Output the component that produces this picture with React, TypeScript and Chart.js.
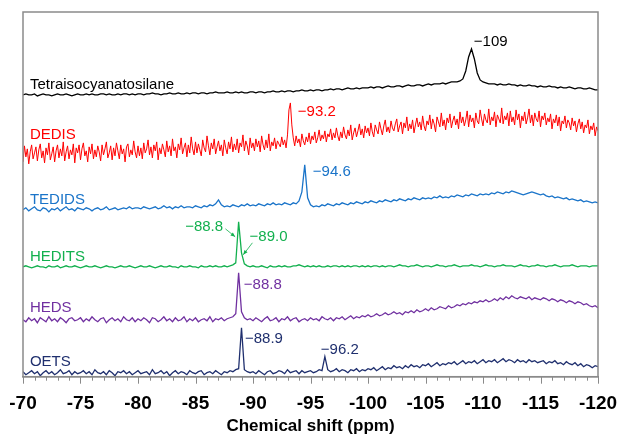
import React, { useEffect, useRef } from "react";
import { Chart, registerables } from "chart.js";

Chart.register(...registerables);

// Spectrum sampling grid (ppm): first point, and spacing of each trace
const SHIFT_START = -70;
const COARSE_STEP = 0.25;
const FINE_STEP = 0.125;

// x-axis range and tick steps
const X_MIN = -120;
const X_MAX = -70;
const MAJOR_STEP = 5;
const MINOR_STEP = 1;

// Intensities (arbitrary units), one value per grid point, left (-70) to right (-120)
const tetraisocyanatosilane = [
  0, 1, 0, 0, 1, -1, 0, 1, 0, 0, -1, 0, 1, 0, 0, 1, 0, -1, 0, 1,
  0, 0, 1, 0, 1, 0, 0, 1, 1, 0, 1, 0, 0, 1, 0, 1, 1, 0, 1, 0,
  1, 1, 0, 1, 1, 2, 1, 1, 0, 1, 1, 2, 1, 1, 2, 1, 1, 2, 1, 2,
  2, 1, 2, 2, 1, 2, 2, 3, 2, 2, 2, 3, 2, 2, 3, 2, 3, 2, 2, 3,
  3, 2, 3, 3, 2, 3, 3, 4, 3, 3, 4, 3, 4, 4, 3, 4, 4, 5, 4, 4,
  5, 4, 5, 5, 4, 5, 5, 6, 5, 6, 6, 5, 6, 7, 6, 6, 7, 6, 7, 7,
  7, 8, 7, 8, 8, 7, 8, 9, 8, 8, 9, 9, 8, 9, 10, 9, 9, 10, 10, 9,
  10, 11, 10, 11, 11, 11, 12, 11, 12, 13, 13, 13, 14, 16, 24, 38, 46, 36, 22, 15,
  13, 12, 11, 11, 11, 10, 11, 10, 10, 11, 10, 10, 9, 10, 9, 9, 10, 9, 9, 8,
  9, 8, 8, 9, 8, 8, 7, 8, 7, 7, 8, 7, 6, 7, 7, 6, 6, 7, 6, 5, 5,
];

// DEDIS is sampled on the fine grid (401 points)
const dedis = [
  -12, 4, -7, 1, -14, -2, 5, -9, -3, 3, -11, 0, 6, -8, -1, -13, 2, -5, 7, -10,
  -4, 3, -12, -1, 5, -8, 1, -6, 8, -11, -2, 4, -9, 0, -5, 6, -13, 2, -3, 5,
  -10, 1, 7, -6, -1, -12, 3, -4, 6, -9, 0, -7, 4, -2, -11, 5, -5, 1, 8, -8,
  -3, 4, -10, 2, -6, 7, -1, -9, 5, -4, 1, -12, 3, 6, -7, 0, -5, 9, -2, -8,
  4, -6, 2, -9, 7, -3, 1, 10, -5, 3, -8, 5, -1, 8, -10, 2, -4, 6, 0, -7,
  9, -2, 4, -6, 11, -1, 3, -8, 6, 0, 12, -4, 2, 7, -7, 5, -3, 13, 1, -5,
  8, -3, 6, 0, -6, 10, 2, -2, 14, 4, -5, 7, 1, 11, -4, 3, 9, -1, 5, -6,
  10, 2, -4, 8, 1, 13, -2, 6, 0, 11, -3, 7, 3, 15, -1, 9, 4, -5, 12, 2,
  7, -1, 11, 3, 9, -2, 14, 5, 0, 10, 2, 16, -1, 8, 4, 12, 1, 9, 6, 3,
  13, 5, 10, 2, 15, 40, 47, 25, 12, 4, 14, 7, 11, 3, 16, 9, 5, 13, 8, 17,
  6, 14, 10, 18, 7, 12, 20, 9, 15, 11, 19, 8, 16, 13, 21, 10, 17, 12, 22, 14,
  9, 18, 12, 23, 15, 11, 20, 14, 25, 10, 17, 22, 13, 19, 26, 15, 21, 12, 24, 17,
  22, 14, 27, 18, 13, 25, 20, 16, 28, 21, 15, 24, 30, 18, 23, 17, 29, 22, 19, 26,
  31, 18, 24, 28, 16, 27, 22, 33, 19, 26, 21, 30, 17, 25, 32, 23, 28, 20, 34, 24,
  19, 29, 25, 35, 21, 31, 26, 18, 33, 28, 23, 37, 24, 30, 20, 32, 27, 36, 22, 29,
  34, 25, 31, 21, 38, 27, 33, 24, 30, 39, 23, 35, 28, 32, 22, 37, 29, 26, 40, 31,
  24, 36, 30, 27, 41, 25, 33, 29, 38, 23, 35, 31, 27, 42, 26, 34, 30, 37, 24, 39,
  28, 33, 25, 40, 30, 36, 22, 34, 29, 38, 26, 32, 41, 27, 35, 24, 37, 31, 28, 39,
  23, 34, 30, 37, 25, 32, 28, 36, 21, 31, 27, 35, 24, 33, 19, 29, 26, 34, 22, 30,
  27, 20, 32, 24, 29, 18, 26, 31, 21, 28, 17, 25, 22, 30, 16, 24, 20, 27, 14, 23,
  19,
];

const tedids = [
  0, 2, -1, 1, 3, 0, -1, 2, 1, -2, 1, 0, 2, -1, 1, 3, 0, 1, -1, 2,
  1, 0, 2, 1, -1, 1, 2, 0, 1, 3, 0, 1, 2, 0, 1, 2, 1, 3, 1, 2,
  2, 1, 3, 2, 1, 2, 3, 1, 2, 4, 2, 3, 1, 3, 2, 4, 2, 3, 3, 2,
  4, 3, 2, 4, 3, 5, 4, 6, 10, 5, 3, 4, 3, 5, 4, 3, 5, 4, 6, 4,
  5, 4, 6, 5, 4, 6, 5, 7, 5, 6, 5, 7, 6, 5, 7, 6, 9, 18, 45, 12,
  5, 3, 4, 3, 5, 4, 6, 5, 4, 6, 5, 7, 6, 5, 7, 6, 8, 7, 6, 8,
  7, 9, 8, 7, 9, 8, 10, 9, 8, 10, 9, 11, 10, 9, 11, 10, 12, 11, 10, 12,
  11, 12, 11, 13, 12, 14, 12, 13, 12, 14, 13, 15, 14, 13, 15, 14, 16, 15, 14, 16,
  15, 16, 15, 17, 16, 18, 17, 16, 18, 17, 19, 18, 17, 16, 15, 16, 17, 18, 17, 16,
  15, 16, 14, 13, 14, 12, 13, 12, 11, 12, 10, 11, 10, 9, 10, 8, 9, 8, 7, 8, 7,
];

const hedits = [
  0, 1, 0, -1, 0, 1, 0, 0, -1, 1, 0, 0, 1, -1, 0, 1, 0, 0, 1, 0,
  -1, 0, 1, 0, 0, 1, 0, -1, 0, 1, 0, 0, -1, 0, 1, 0, 0, 1, 0, -1,
  0, 1, 0, 0, 1, 0, -1, 0, 1, 0, 0, 1, 0, 0, -1, 1, 0, 0, 1, 0,
  0, -1, 1, 0, 0, 1, 0, 1, 0, 0, 1, 0, 1, 2, 4, 45, 14, 3, 1, 0,
  1, 0, 0, 1, 0, -1, 1, 0, 0, 1, 0, 1, 0, 0, 1, 1, 2, 1, 0, 1,
  0, 1, 0, 1, 0, 0, 1, 0, 1, 1, 0, 1, 0, 1, 0, 1, 1, 0, 1, 0,
  1, 0, 1, 1, 0, 1, 0, 1, 1, 0, 1, 2, 1, 1, 0, 1, 1, 2, 1, 0,
  1, 1, 0, 1, 2, 1, 1, 0, 1, 1, 2, 1, 0, 1, 1, 1, 2, 1, 1, 0,
  1, 2, 1, 1, 0, 1, 1, 2, 1, 1, 1, 0, 1, 2, 1, 1, 0, 1, 1, 2,
  1, 1, 0, 1, 1, 2, 1, 0, 1, 1, 1, 2, 1, 0, 1, 1, 1, 0, 1, 1, 1,
];

const heds = [
  0, -2, 2, -1, 1, -3, 2, 0, -2, 3, -1, 1, -2, 2, 0, -3, 1, 2, -1, 0,
  2, -2, 1, -1, 3, 0, -2, 1, 2, -3, 0, 2, -1, 1, -2, 3, 0, -1, 2, -2,
  1, -1, 2, 0, -3, 2, 1, -2, 0, 3, -1, 1, -2, 2, -1, 0, 3, -2, 1, -1,
  2, -2, 0, 1, -1, 3, -2, 1, 0, 2, -1, 1, 2, 3, 6, 47, 8, 2, 0, 1,
  -1, 2, 0, -2, 1, 3, -1, 0, 2, -2, 1, 0, 3, -1, 1, 2, -2, 0, 1, -1,
  2, 0, 1, -1, 3, 1, 0, 2, -1, 2, 1, 3, 0, 2, 4, 1, 3, 2, 4, 3,
  5, 3, 4, 6, 4, 5, 7, 5, 6, 8, 6, 7, 5, 8, 7, 9, 7, 10, 8, 9,
  11, 9, 12, 10, 11, 13, 12, 11, 14, 12, 13, 15, 14, 16, 15, 17, 16, 18, 17, 19,
  18, 20, 18, 19, 21, 19, 22, 20, 23, 21, 24, 22, 21, 23, 22, 21, 23, 20, 22, 21,
  20, 22, 21, 19, 21, 20, 18, 20, 19, 17, 19, 18, 16, 18, 17, 15, 16, 14, 13, 14, 12,
];

const oets = [
  1, -2, 0, 2, -1, 1, -3, 0, 2, -1, 1, -2, 0, 3, -1, 0, 2, -2, 1, -1,
  0, 2, -1, 1, -2, 3, 0, -1, 1, -2, 2, 0, -3, 1, 0, 2, -1, 1, -2, 0,
  2, -1, 0, 1, -2, 3, -1, 0, 2, -1, 1, -3, 0, 2, -1, 1, 0, -2, 2, 0,
  -1, 1, 2, -2, 0, 1, -1, 2, 0, -2, 1, 0, 2, 1, 3, 4, 45, 3, 1, 0,
  1, -1, 2, 0, -2, 1, 2, -1, 0, 2, 1, -1, 3, 0, 1, 2, -1, 2, 0, 1,
  2, 0, 1, 3, 2, 16, 3, 1, 2, 4, 1, 3, 2, 0, 3, 2, 4, 1, 3, 2,
  4, 3, 5, 2, 4, 6, 3, 5, 4, 7, 5, 6, 4, 7, 5, 8, 6, 7, 5, 8,
  7, 9, 6, 8, 10, 7, 9, 8, 10, 9, 11, 8, 10, 12, 9, 11, 10, 12, 9, 11,
  13, 10, 12, 11, 13, 10, 12, 14, 11, 13, 12, 10, 13, 11, 12, 10, 13, 11, 12, 10,
  11, 12, 9, 11, 10, 12, 9, 10, 8, 11, 9, 8, 10, 7, 9, 6, 8, 7, 5, 7, 6,
];

// Traces: name, values, sampling step, vertical stacking offset, colour, line width
const traces = [
  { name: "Tetraisocyanatosilane", values: tetraisocyanatosilane, step: COARSE_STEP, offset: 282, color: "#000000", width: 1.3 },
  { name: "DEDIS", values: dedis, step: FINE_STEP, offset: 227, color: "#ff0000", width: 1 },
  { name: "TEDIDS", values: tedids, step: COARSE_STEP, offset: 167, color: "#1a74c9", width: 1.3 },
  { name: "HEDITS", values: hedits, step: COARSE_STEP, offset: 110, color: "#12b04e", width: 1.3 },
  { name: "HEDS", values: heds, step: COARSE_STEP, offset: 57, color: "#7030a0", width: 1.3 },
  { name: "OETS", values: oets, step: COARSE_STEP, offset: 4, color: "#1f2f6e", width: 1.3 },
];

// Text labels placed in data coordinates (ppm, level)
const textLabels = [
  { text: "Tetraisocyanatosilane", ppm: -70.6, level: 292, color: "#000000" },
  { text: "\u2212109", ppm: -109.2, level: 335, color: "#000000" },
  { text: "DEDIS", ppm: -70.6, level: 242, color: "#ff0000" },
  { text: "\u221293.2", ppm: -93.9, level: 265, color: "#ff0000" },
  { text: "TEDIDS", ppm: -70.6, level: 177, color: "#1a74c9" },
  { text: "\u221294.6", ppm: -95.2, level: 205, color: "#1a74c9" },
  { text: "HEDITS", ppm: -70.6, level: 120, color: "#12b04e" },
  { text: "\u221288.8", ppm: -84.1, level: 150, color: "#12b04e" },
  { text: "\u221289.0", ppm: -89.7, level: 140, color: "#12b04e" },
  { text: "HEDS", ppm: -70.6, level: 69, color: "#7030a0" },
  { text: "\u221288.8", ppm: -89.2, level: 92, color: "#7030a0" },
  { text: "OETS", ppm: -70.6, level: 15, color: "#1f2f6e" },
  { text: "\u221288.9", ppm: -89.3, level: 38, color: "#1f2f6e" },
  { text: "\u221296.2", ppm: -95.9, level: 27, color: "#1f2f6e" },
];

const arrows = [
  { fromPpm: -87.6, fromLevel: 148, toPpm: -88.45, toLevel: 140, color: "#12b04e" },
  { fromPpm: -89.95, fromLevel: 134, toPpm: -89.15, toLevel: 122, color: "#12b04e" },
];

const FONT = 'Arial, "Liberation Sans", Helvetica, sans-serif';
const FRAME_COLOR = "#8a8a8a";
const MAJOR_TICK_LEN = 7;
const MINOR_TICK_LEN = 4;

const framePlugin = {
  id: "frameAndTicks",
  afterDraw(chart: any) {
    const { ctx, chartArea, scales } = chart;
    const x = scales.x;
    ctx.save();
    ctx.strokeStyle = FRAME_COLOR;
    ctx.lineWidth = 1.5;
    ctx.strokeRect(chartArea.left, chartArea.top, chartArea.right - chartArea.left, chartArea.bottom - chartArea.top);
    ctx.lineWidth = 1;
    ctx.beginPath();
    for (let v = X_MAX; v >= X_MIN; v -= MINOR_STEP) {
      const len = v % MAJOR_STEP === 0 ? MAJOR_TICK_LEN : MINOR_TICK_LEN;
      const px = Math.round(x.getPixelForValue(v)) + 0.5;
      ctx.moveTo(px, chartArea.bottom);
      ctx.lineTo(px, chartArea.bottom + len);
    }
    ctx.stroke();
    ctx.restore();
  },
};

const labelPlugin = {
  id: "spectrumLabels",
  afterDatasetsDraw(chart: any) {
    const { ctx, scales } = chart;
    const x = scales.x;
    const y = scales.y;
    ctx.save();
    ctx.font = `15px ${FONT}`;
    ctx.textAlign = "left";
    ctx.textBaseline = "middle";
    for (const l of textLabels) {
      ctx.fillStyle = l.color;
      ctx.fillText(l.text, x.getPixelForValue(l.ppm), y.getPixelForValue(l.level));
    }
    for (const a of arrows) {
      const x0 = x.getPixelForValue(a.fromPpm);
      const y0 = y.getPixelForValue(a.fromLevel);
      const x1 = x.getPixelForValue(a.toPpm);
      const y1 = y.getPixelForValue(a.toLevel);
      ctx.strokeStyle = a.color;
      ctx.fillStyle = a.color;
      ctx.lineWidth = 0.8;
      ctx.beginPath();
      ctx.moveTo(x0, y0);
      ctx.lineTo(x1, y1);
      ctx.stroke();
      const ang = Math.atan2(y1 - y0, x1 - x0);
      const hl = 5;
      ctx.beginPath();
      ctx.moveTo(x1, y1);
      ctx.lineTo(x1 - hl * Math.cos(ang - 0.4), y1 - hl * Math.sin(ang - 0.4));
      ctx.lineTo(x1 - hl * Math.cos(ang + 0.4), y1 - hl * Math.sin(ang + 0.4));
      ctx.closePath();
      ctx.fill();
    }
    ctx.restore();
  },
};

export default function App() {
  const canvasRef = useRef<HTMLCanvasElement | null>(null);

  useEffect(() => {
    const canvas = canvasRef.current;
    if (!canvas) return;
    const datasets = traces.map((t) => ({
      label: t.name,
      data: t.values.map((v, i) => ({ x: SHIFT_START - t.step * i, y: v + t.offset })),
      borderColor: t.color,
      backgroundColor: t.color,
      borderWidth: t.width,
      pointRadius: 0,
      tension: 0,
      fill: false,
    }));
    const chart = new Chart(canvas, {
      type: "line",
      data: { datasets },
      options: {
        animation: false,
        responsive: false,
        maintainAspectRatio: false,
        layout: { padding: { left: 23, right: 23, top: 12, bottom: 0 } },
        plugins: {
          legend: { display: false },
          tooltip: { enabled: false },
        },
        scales: {
          x: {
            type: "linear",
            min: X_MIN,
            max: X_MAX,
            reverse: true,
            grid: {
              drawOnChartArea: false,
              drawTicks: true,
              tickLength: 15,
              color: "rgba(0,0,0,0)",
              lineWidth: 1,
            },
            border: { display: true, color: FRAME_COLOR, width: 1.5 },
            ticks: {
              stepSize: MAJOR_STEP,
              autoSkip: false,
              maxRotation: 0,
              padding: 3,
              color: "#000000",
              font: { family: FONT, size: 19, weight: "bold", lineHeight: 1 },
              callback: (v: any) => `${v}`,
            },
            title: {
              display: true,
              text: "Chemical shift (ppm)",
              color: "#000000",
              font: { family: FONT, size: 17, weight: "bold", lineHeight: 0.9 },
              padding: { top: 2, bottom: 0 },
            },
          },
          y: {
            type: "linear",
            display: false,
            min: 0,
            max: 365,
          },
        },
      },
      plugins: [framePlugin, labelPlugin],
    });
    return () => chart.destroy();
  }, []);

  return (
    <div style={{ position: "fixed", left: 0, top: 0, width: 621, height: 434, background: "#ffffff" }}>
      <canvas ref={canvasRef} width={621} height={434} />
    </div>
  );
}
